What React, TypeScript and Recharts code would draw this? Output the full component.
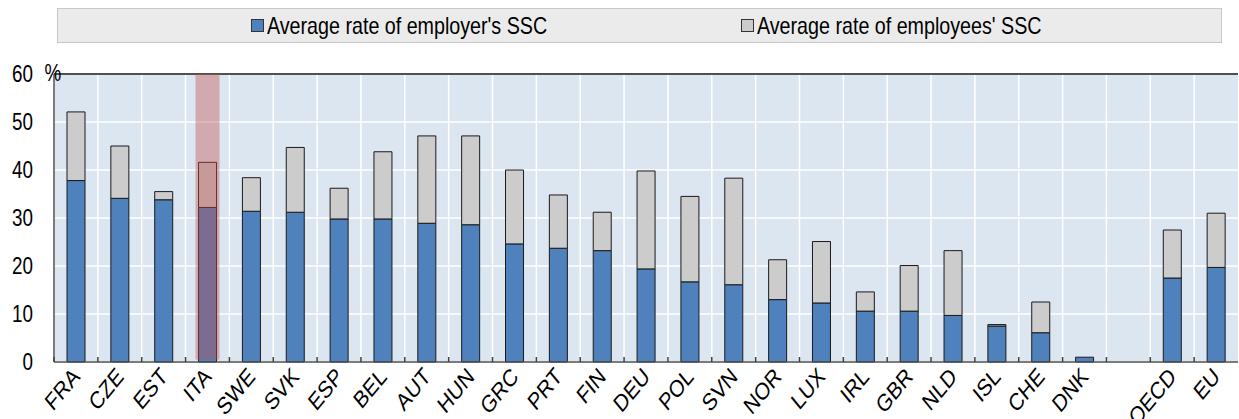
import React from 'react';
import { BarChart, Bar, XAxis, YAxis, CartesianGrid, ReferenceArea, ReferenceLine } from 'recharts';

const categories = ['FRA', 'CZE', 'EST', 'ITA', 'SWE', 'SVK', 'ESP', 'BEL', 'AUT', 'HUN', 'GRC', 'PRT', 'FIN', 'DEU', 'POL', 'SVN', 'NOR', 'LUX', 'IRL', 'GBR', 'NLD', 'ISL', 'CHE', 'DNK', '', 'OECD', 'EU'];
const employerRate = [37.8, 34.1, 33.8, 32.2, 31.4, 31.2, 29.8, 29.8, 28.9, 28.6, 24.6, 23.7, 23.2, 19.4, 16.7, 16.1, 13.0, 12.3, 10.6, 10.6, 9.7, 7.5, 6.1, 1.0, null, 17.5, 19.7];
const employeesRate = [14.3, 10.9, 1.7, 9.4, 7.0, 13.5, 6.4, 14.0, 18.2, 18.5, 15.4, 11.1, 8.0, 20.4, 17.8, 22.2, 8.3, 12.8, 4.0, 9.5, 13.5, 0.3, 6.4, null, null, 10.0, 11.3];
const yTicks = [0, 10, 20, 30, 40, 50, 60];
const seriesNames = ["Average rate of employer's SSC", "Average rate of employees' SSC"];
const seriesColors = ['#4f81bd', '#cccccc'];
const highlighted = 'ITA';

const data = categories.map((c, i) => ({ name: c, employer: employerRate[i], employees: employeesRate[i] }));

const FONT = "'Liberation Sans', Arial, sans-serif";
const NARROW = 0.82;

function XTick(props: any) {
  const { x, y, payload } = props;
  const half = payload && payload.offset ? payload.offset : 0;
  const bx = x - half;
  const ax = x + 5;
  const ay = y + 16;
  return (
    <g>
      <line x1={bx} x2={bx} y1={y - 5} y2={y} stroke="#404040" strokeWidth={1.5} />
      {payload.value ? (
        <text
          x={0}
          y={0}
          transform={`translate(${ax} ${ay}) scale(${NARROW} 1) rotate(-45)`}
          textAnchor="end"
          fontSize={24}
          fill="#000"
          fontFamily={FONT}
        >
          {payload.value}
        </text>
      ) : null}
    </g>
  );
}

function YTick(props: any) {
  const { x, y, payload } = props;
  return (
    <text x={0} y={0} dy="0.355em" transform={`translate(${x} ${y}) scale(${NARROW} 1)`} textAnchor="end" fontSize={23} fill="#000" fontFamily={FONT}>
      {payload.value}
    </text>
  );
}

function PercentLabel(props: any) {
  const vb = props.viewBox || { x: 0, y: 0, width: 0 };
  return (
    <text x={0} y={0} transform={`translate(${vb.x + vb.width - 1} ${vb.y + 7}) scale(${NARROW} 1)`} textAnchor="middle" fontSize={23} fill="#000" fontFamily={FONT}>%</text>
  );
}

function HighlightShape(props: any) {
  const w = 24;
  return <rect x={props.x + (props.width - w) / 2} y={props.y} width={w} height={props.height} fill="#c0504d" fillOpacity={0.4} />;
}

const legendItemLeft = [193, 683];

export default function App() {
  return (
    <div style={{ position: 'absolute', left: 0, top: 0, width: 1239, height: 419, background: '#fff' }}>
      <div
        style={{
          position: 'absolute', left: 57, top: 8, width: 1165, height: 35, boxSizing: 'border-box',
          background: '#ebebeb', border: '1px solid #c8c8c8', fontFamily: FONT, fontSize: 24, color: '#000',
        }}
      >
        {seriesNames.map((n, i) => (
          <div key={n} style={{ position: 'absolute', left: legendItemLeft[i], top: 0, height: 33, display: 'flex', alignItems: 'center', whiteSpace: 'nowrap' }}>
            <span style={{ display: 'inline-block', width: 11, height: 11, background: seriesColors[i], border: '1px solid #333', marginRight: 3 }} />
            <span style={{ display: 'inline-block', transform: `scaleX(${NARROW})`, transformOrigin: 'left center', lineHeight: '33px' }}>{n}</span>
          </div>
        ))}
      </div>
      <BarChart width={1239} height={419} data={data} margin={{ top: 74, right: 1, bottom: 0, left: 0 }} barSize={18}>
        <CartesianGrid
          fill="#dce6f1"
          fillOpacity={1}
          stroke="#ffffff"
          strokeWidth={1.5}
          verticalCoordinatesGenerator={({ xAxis, offset }: any) => {
            const s = xAxis && xAxis.scale;
            if (s && typeof s === 'function' && typeof s.bandwidth === 'function') {
              return categories.map((c) => s(c)).filter((v: any) => v != null);
            }
            const step = offset.width / categories.length;
            return categories.map((_, i) => offset.left + i * step);
          }}
        />
        <XAxis
          dataKey="name"
          interval={0}
          tickLine={false}
          tickSize={0}
          tickMargin={0}
          height={57}
          axisLine={{ stroke: '#505050', strokeWidth: 1.5 }}
          tick={<XTick />}
        />
        <YAxis
          domain={[0, 60]}
          ticks={yTicks}
          width={54}
          tickLine={false}
          tickSize={0}
          tickMargin={21}
          axisLine={{ stroke: '#505050', strokeWidth: 1.5 }}
          tick={<YTick />}
          label={{ content: <PercentLabel /> }}
        />
        <ReferenceLine y={60} stroke="#505050" strokeWidth={2} />
        <Bar dataKey="employer" name={seriesNames[0]} stackId="a" fill={seriesColors[0]} stroke="#1a1a1a" strokeWidth={1} isAnimationActive={false} />
        <Bar dataKey="employees" name={seriesNames[1]} stackId="a" fill={seriesColors[1]} stroke="#1a1a1a" strokeWidth={1} isAnimationActive={false} />
        <ReferenceArea x1={highlighted} x2={highlighted} y1={0.5} y2={60} shape={<HighlightShape />} zIndex={400} ifOverflow="visible" />
      </BarChart>
    </div>
  );
}
